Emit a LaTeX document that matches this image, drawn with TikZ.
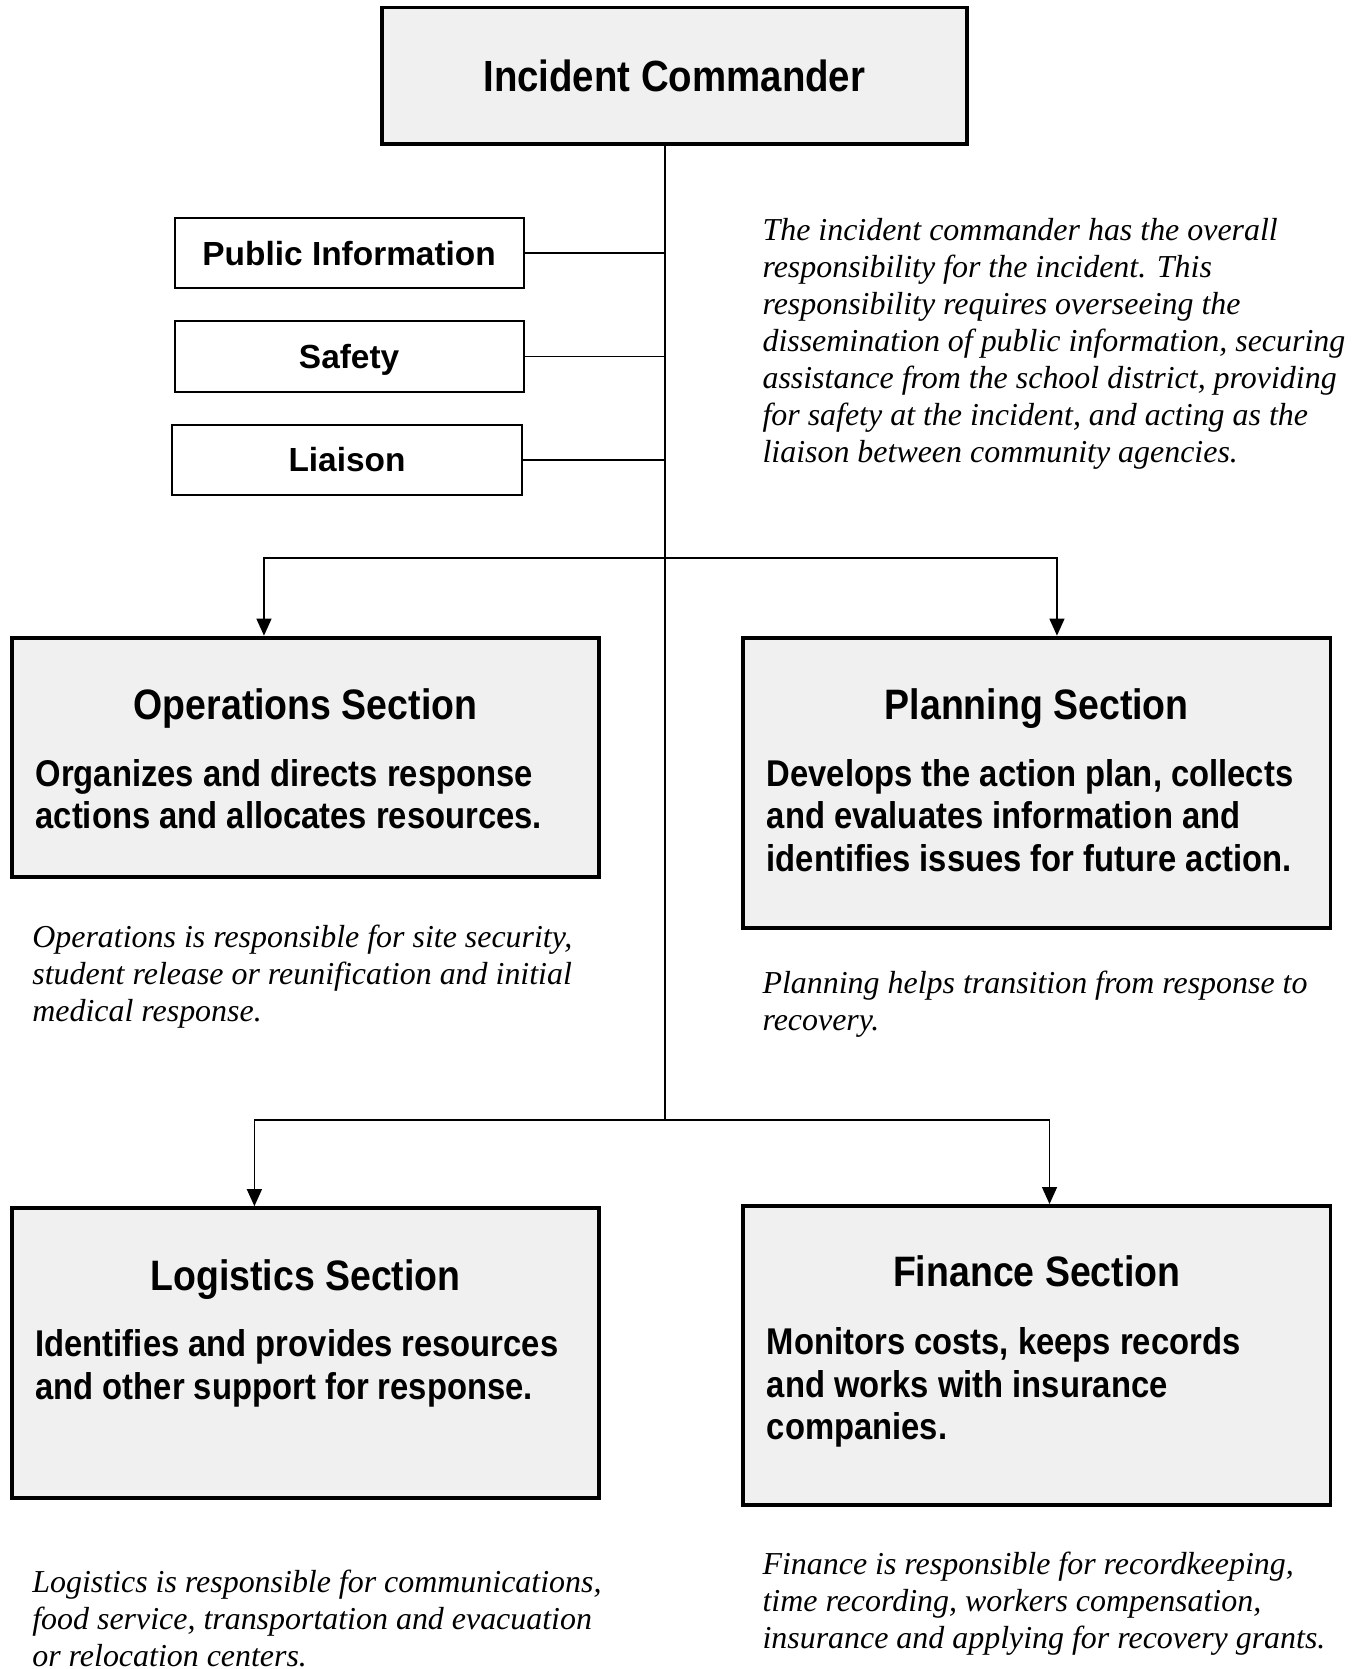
\documentclass[tikz,border=0pt]{standalone}
\usepackage{fontspec}
\setmainfont{Liberation Serif}
\setsansfont{Liberation Sans}
\newfontfamily\narrowsans[FakeStretch=0.88]{Liberation Sans}
\usetikzlibrary{arrows.meta}
\definecolor{boxgray}{HTML}{F0F0F0}

\begin{document}
\begin{tikzpicture}
      [x=0.5pt, y=-0.5pt,
      chief/.style={draw, line width=1.8pt, fill=boxgray, minimum width=275pt, minimum height=64pt, text height=15pt, text depth=0pt, font=\narrowsans\bfseries\fontsize{20.5}{24}\selectfont},
      staff/.style={draw, line width=0.9pt, minimum width=164pt, minimum height=33pt, text height=11.4pt, text depth=0pt, font=\sffamily\bfseries\fontsize{15.7}{18}\selectfont},
      sectionbox/.style={draw, line width=1.8pt, fill=boxgray, minimum width=276pt},
      head/.style={anchor=base, font=\narrowsans\bfseries\fontsize{20}{24}\selectfont},
      duty/.style={anchor=north west, inner sep=0pt, align=left, font=\narrowsans\bfseries\fontsize{17.5}{20}\selectfont},
      note/.style={anchor=north west, inner sep=0pt, align=left, font=\itshape\fontsize{15}{17.35}\selectfont},
      link/.style={line width=0.8pt},
      >={Triangle[length=8pt, width=7pt]}]
      \useasboundingbox (0, 0) rectangle (1280, 1568);
      \node[chief](1) at (633.5, 71) {Incident Commander};
      \node[staff](2) at (328, 238) {Public Information};
      \node[staff](3) at (328, 335) {Safety};
      \node[staff](4) at (326, 432) {Liaison};
      \node[note](5) at (716, 205) {The incident commander has the overall\\
        responsibility for the incident. This\\
        responsibility requires overseeing the\\
        dissemination of public information, securing\\
        assistance from the school district, providing\\
        for safety at the incident, and acting as the\\
        liaison between community agencies.};

      \coordinate(a) at (625, 524);
      \coordinate(b) at (625, 1052);
      \draw[link](1.south -| a) -- (b);
      \draw[link](2.east) -- (2.east -| a);
      \draw[link](3.east) -- (3.east -| a);
      \draw[link](4.east) -- (4.east -| a);

      \node[sectionbox, minimum height=112.5pt](6) at (287, 711.5) {};
      \node[head](6a) at (287, 676) {Operations Section};
      \node[duty](6b) at (33, 713) {Organizes and directs response\\actions and allocates resources.};
      \node[note](6c) at (30, 869) {Operations is responsible for site security,\\
        student release or reunification and initial\\
        medical response.};

      \node[sectionbox, minimum height=136.5pt](7) at (974, 735.5) {};
      \node[head](7a) at (974, 676) {Planning Section};
      \node[duty](7b) at (720, 713) {Develops the action plan, collects\\and evaluates information and\\identifies issues for future action.};
      \node[note](7c) at (716, 912) {Planning helps transition from response to\\
        recovery.};

      \coordinate(c) at (248, 524);
      \coordinate(d) at (993, 524);
      \draw[link, ->](a) -- (c) -- (c |- 6.north);
      \draw[link, ->](a) -- (d) -- (d |- 7.north);

      \node[sectionbox, minimum height=136pt](8) at (287, 1271) {};
      \node[head](8a) at (287, 1212) {Logistics Section};
      \node[duty](8b) at (33, 1249) {Identifies and provides resources\\and other support for response.};
      \node[note](8c) at (30, 1475) {Logistics is responsible for communications,\\
        food service, transportation and evacuation\\
        or relocation centers.};

      \node[sectionbox, minimum height=140.5pt](9) at (974, 1273.5) {};
      \node[head](9a) at (974, 1209) {Finance Section};
      \node[duty](9b) at (720, 1247) {Monitors costs, keeps records\\and works with insurance\\companies.};
      \node[note](9c) at (716, 1458) {Finance is responsible for recordkeeping,\\
        time recording, workers compensation,\\
        insurance and applying for recovery grants.};

      \coordinate(e) at (239, 1052);
      \coordinate(f) at (986, 1052);
      \draw[link, ->](b) -- (e) -- (e |- 8.north);
      \draw[link, ->](b) -- (f) -- (f |- 9.north);
  \end{tikzpicture}
\end{document}
